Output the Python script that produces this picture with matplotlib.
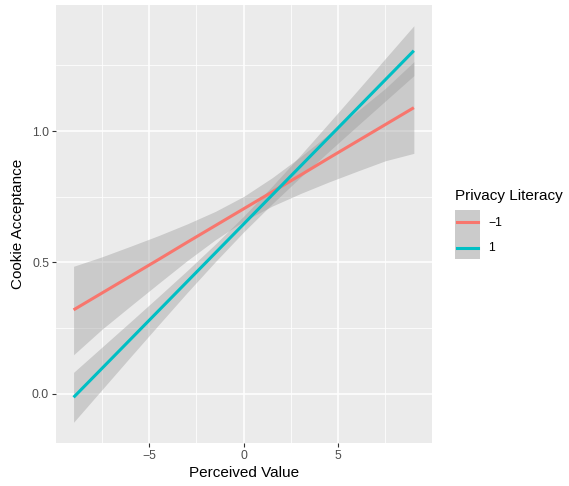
import matplotlib
matplotlib.use("Agg")
import matplotlib.pyplot as plt
from matplotlib.patches import Rectangle
from matplotlib.lines import Line2D

plt.rcParams['font.family'] = ['Liberation Sans', 'DejaVu Sans']

# Data
x_vals = [-9, -7.5, -6, -4.5, -3, -1.5, 0, 1.5, 3, 4.5, 6, 7.5, 9]
red_fit = [0.319, 0.383, 0.447, 0.511, 0.576, 0.640, 0.704, 0.768, 0.832, 0.897, 0.961, 1.025, 1.089]
red_lo = [0.148, 0.245, 0.333, 0.420, 0.506, 0.586, 0.657, 0.714, 0.762, 0.806, 0.847, 0.887, 0.915]
red_hi = [0.485, 0.521, 0.561, 0.602, 0.646, 0.694, 0.751, 0.822, 0.902, 0.988, 1.075, 1.163, 1.264]
cyan_fit = [-0.014, 0.096, 0.206, 0.316, 0.426, 0.536, 0.646, 0.756, 0.866, 0.976, 1.086, 1.196, 1.306]
cyan_lo = [-0.109, 0.015, 0.139, 0.262, 0.384, 0.5025, 0.616, 0.7225, 0.824, 0.922, 1.019, 1.115, 1.211]
cyan_hi = [0.081, 0.177, 0.273, 0.370, 0.468, 0.5695, 0.676, 0.7895, 0.908, 1.030, 1.153, 1.277, 1.401]
group_labels = ["\u22121", "1"]
colors = ["#F8766D", "#00BFC4"]
x_ticks = [-5, 0, 5]
x_ticklabels = ["\u22125", "0", "5"]
y_ticks = [0.0, 0.5, 1.0]
y_ticklabels = ["0.0", "0.5", "1.0"]

W, H = 569, 486
fig = plt.figure(figsize=(W / 100, H / 100), dpi=100)
ax = fig.add_axes([56 / W, 1 - 443 / H, (432 - 56) / W, (443 - 5) / H])
ax.set_facecolor("#EBEBEB")
for s in ax.spines.values():
    s.set_visible(False)

ax.set_xlim(-9.93, 9.96)
ax.set_ylim(-0.188, 1.48)

ax.set_xticks(x_ticks)
ax.set_xticklabels(x_ticklabels)
ax.set_yticks(y_ticks)
ax.set_yticklabels(y_ticklabels)
ax.set_xticks([-7.5, -2.5, 2.5, 7.5], minor=True)
ax.set_yticks([0.25, 0.75, 1.25], minor=True)
ax.grid(which="major", color="white", linewidth=1.1)
ax.grid(which="minor", color="white", linewidth=0.55)
ax.set_axisbelow(True)
ax.tick_params(which="major", length=3, width=0.8, color="#333333",
               labelcolor="#4D4D4D", labelsize=8.8, pad=2)
ax.tick_params(which="minor", length=0)

fits = [red_fit, cyan_fit]
los = [red_lo, cyan_lo]
his = [red_hi, cyan_hi]
for lo, hi in zip(los, his):
    ax.fill_between(x_vals, lo, hi, color="#999999", alpha=0.4, linewidth=0, zorder=2)
for fit, c in zip(fits, colors):
    ax.plot(x_vals, fit, color=c, linewidth=2.2, zorder=3, solid_capstyle="butt")

ax.set_xlabel("Perceived Value", fontsize=11, labelpad=3)
ax.set_ylabel("Cookie Acceptance", fontsize=11, labelpad=5)

# Legend (manual, figure pixel coords)
def fx(px):
    return px / W

def fy(py):
    return 1 - py / H

fig.text(fx(455), fy(196), "Privacy Literacy", fontsize=11, ha="left", va="center")
fig.patches.append(Rectangle((fx(455), fy(259)), fx(480) - fx(455), fy(210) - fy(259),
                             transform=fig.transFigure, facecolor="#CBCBCB",
                             edgecolor="none", figure=fig))
for i, (lab, c) in enumerate(zip(group_labels, colors)):
    yy = 222.5 + i * 25
    fig.lines.append(Line2D([fx(457), fx(478)], [fy(yy), fy(yy)], color=c,
                            linewidth=2.2, transform=fig.transFigure, figure=fig))
    fig.text(fx(488), fy(yy), lab, fontsize=8.8, ha="left", va="center")

fig.savefig("out.png", dpi=100)
